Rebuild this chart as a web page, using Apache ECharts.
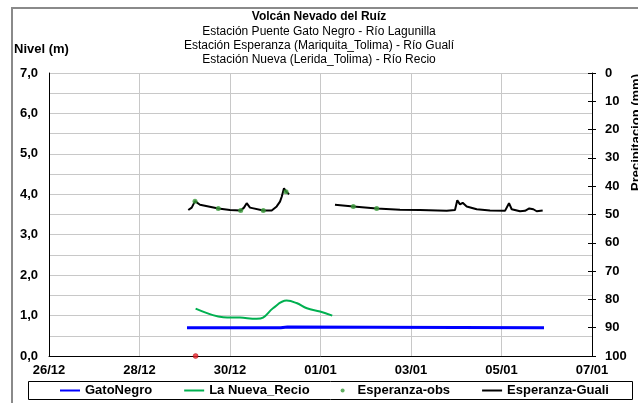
<!DOCTYPE html>
<html><head><meta charset="utf-8">
<script src="https://cdn.jsdelivr.net/npm/echarts@6/dist/echarts.min.js"></script>
<style>html,body{margin:0;padding:0;background:#fff}#c{width:638px;height:403px}</style>
</head><body><div id="c"></div>
<script>
// ---- data (x values are days after 26/12 00:00) ----
const titleText = 'Volcán Nevado del Ruíz';
const subtitleLines = [
  'Estación Puente Gato Negro - Río Lagunilla',
  'Estación Esperanza (Mariquita_Tolima) - Río Gualí',
  'Estación Nueva (Lerida_Tolima) - Río Recio'
];
const leftAxisName = 'Nivel (m)';
const rightAxisName = 'Precipitacion (mm)';
const xTickLabels = ['26/12', '28/12', '30/12', '01/01', '03/01', '05/01', '07/01'];
const seriesNames = ['GatoNegro', 'La Nueva_Recio', 'Esperanza-obs', 'Esperanza-Guali'];

const gatoDays = [3.05, 5.12, 5.16, 5.27, 5.31, 10.94];
const gatoVals = [0.70, 0.70, 0.72, 0.72, 0.70, 0.70];

const recioDays = [3.24, 3.62, 3.85, 4.22, 4.59, 4.73, 4.95, 5.25, 5.47, 5.70, 5.99, 6.26];
const recioVals = [1.17, 1.01, 0.96, 0.95, 0.92, 0.95, 1.18, 1.37, 1.31, 1.18, 1.10, 1.00];

const obsDays = [3.227, 3.741, 4.236, 4.736, 5.238, 6.725, 7.242];
const obsVals = [3.83, 3.65, 3.60, 3.60, 4.06, 3.70, 3.65];

const guali1Days = [3.078, 3.154, 3.227, 3.337, 3.741, 4.0, 4.236, 4.309, 4.369, 4.442, 4.736, 4.922, 5.032, 5.105, 5.143, 5.193, 5.238, 5.304];
const guali1Vals = [3.61, 3.67, 3.83, 3.74, 3.65, 3.61, 3.60, 3.67, 3.78, 3.67, 3.60, 3.60, 3.70, 3.82, 3.94, 4.15, 4.07, 4.00];
const guali2Days = [6.32, 6.725, 7.242, 7.757, 8.199, 8.789, 8.972, 9.023, 9.083, 9.142, 9.231, 9.452, 9.746, 10.077, 10.166, 10.225, 10.409, 10.519, 10.614, 10.703, 10.778, 10.91];
const guali2Vals = [3.74, 3.70, 3.65, 3.62, 3.61, 3.59, 3.61, 3.85, 3.75, 3.79, 3.70, 3.63, 3.60, 3.59, 3.78, 3.63, 3.58, 3.59, 3.65, 3.63, 3.58, 3.60];

const rainDays = [3.24];
const rainVals = [0];

// ---- build ----
const zip = (a, b) => a.map((v, i) => [v, b[i]]);
const FONT = 'Liberation Sans, Arial, sans-serif';
const lbl = { fontFamily: FONT, fontSize: 13, fontWeight: 'bold', color: '#000' };

const chart = echarts.init(document.getElementById('c'), null, { renderer: 'canvas' });
const rightAxisBase = {
  type: 'value', min: 0, max: 100, interval: 10, inverse: true, position: 'right',
  splitLine: { show: false }
};
const lineLegend = name => ({ name: name, itemStyle: { opacity: 0 } });
chart.setOption({
  animation: false,
  backgroundColor: '#fff',
  textStyle: { fontFamily: FONT },
  grid: { left: 49, right: 46, top: 73, bottom: 47, containLabel: false },
  xAxis: {
    type: 'value', min: 0, max: 12, interval: 2,
    axisLine: { show: true, lineStyle: { color: '#000', width: 1 } },
    axisTick: { show: false },
    splitLine: { show: true, lineStyle: { color: '#c8c8c8', width: 1 } },
    axisLabel: Object.assign({ margin: 8, formatter: v => xTickLabels[Math.round(v / 2)] || '' }, lbl)
  },
  yAxis: [
    {
      type: 'value', min: 0, max: 7, interval: 0.5, position: 'left',
      axisLine: { show: true, lineStyle: { color: '#000', width: 1 } },
      axisTick: { show: false },
      splitLine: { show: true, lineStyle: { color: '#c8c8c8', width: 1 } },
      axisLabel: Object.assign({
        margin: 11,
        formatter: v => Math.abs(v - Math.round(v)) < 1e-6 ? v.toFixed(1).replace('.', ',') : ''
      }, lbl)
    },
    Object.assign({}, rightAxisBase, {
      axisLine: { show: true, lineStyle: { color: '#000', width: 1 } },
      axisTick: { show: true, length: 4, lineStyle: { color: '#000' } },
      axisLabel: Object.assign({ margin: 13 }, lbl)
    }),
    Object.assign({}, rightAxisBase, {
      axisLine: { show: false },
      axisTick: { show: true, inside: true, length: 4, lineStyle: { color: '#000' } },
      axisLabel: { show: false }
    })
  ],
  legend: {
    data: [lineLegend(seriesNames[0]), lineLegend(seriesNames[1]), { name: seriesNames[2] }, lineLegend(seriesNames[3])],
    left: 59, top: 384, padding: 0,
    itemWidth: 20, itemHeight: 4, itemGap: 31,
    textStyle: lbl
  },
  graphic: [
    { type: 'rect', z: -10, silent: true, shape: { x: 12, y: 8, width: 700, height: 420 },
      style: { fill: 'none', stroke: '#8a8a8a', lineWidth: 2 } },
    { type: 'rect', z: 0, silent: true, shape: { x: 28.5, y: 381.5, width: 604, height: 18 },
      style: { fill: 'none', stroke: '#000', lineWidth: 1 } },
    { type: 'text', x: 319, y: 17, style: { text: titleText, align: 'center', verticalAlign: 'middle', font: 'bold 12px ' + FONT, fill: '#000' } },
    { type: 'text', x: 319, y: 32, style: { text: subtitleLines[0], align: 'center', verticalAlign: 'middle', font: '12px ' + FONT, fill: '#000' } },
    { type: 'text', x: 319, y: 46, style: { text: subtitleLines[1], align: 'center', verticalAlign: 'middle', font: '12px ' + FONT, fill: '#000' } },
    { type: 'text', x: 319, y: 60, style: { text: subtitleLines[2], align: 'center', verticalAlign: 'middle', font: '12px ' + FONT, fill: '#000' } },
    { type: 'text', x: 14, y: 49, style: { text: leftAxisName, align: 'left', verticalAlign: 'middle', font: 'bold 13px ' + FONT, fill: '#000' } },
    { type: 'text', x: 636, y: 74, rotation: Math.PI / 2,
      style: { text: rightAxisName, align: 'right', verticalAlign: 'middle', font: 'bold 13px ' + FONT, fill: '#000' } }
  ],
  series: [
    { name: seriesNames[0], type: 'line', yAxisIndex: 0, data: zip(gatoDays, gatoVals),
      symbol: 'none', color: '#0000ff', lineStyle: { color: '#0000ff', width: 3 }, z: 3 },
    { name: seriesNames[1], type: 'line', yAxisIndex: 0, data: zip(recioDays, recioVals), smooth: 0.4,
      symbol: 'none', color: '#00b050', lineStyle: { color: '#00b050', width: 2 }, z: 3 },
    { name: seriesNames[3], type: 'line', yAxisIndex: 0,
      data: zip(guali1Days, guali1Vals).concat([[5.8, '-']], zip(guali2Days, guali2Vals)),
      symbol: 'none', color: '#000', lineStyle: { color: '#000', width: 2 }, connectNulls: false, z: 4 },
    { name: seriesNames[2], type: 'scatter', yAxisIndex: 0, data: zip(obsDays, obsVals),
      symbol: 'circle', symbolSize: 5, color: '#3a9a3a', itemStyle: { color: '#3a9a3a' }, z: 5 },
    { name: 'Lluvia', type: 'scatter', yAxisIndex: 0, data: zip(rainDays, rainVals),
      symbol: 'circle', symbolSize: 5, itemStyle: { color: '#e8202a', borderColor: '#a00000', borderWidth: 0.5 }, z: 6 }
  ]
});
</script>
</body></html>
